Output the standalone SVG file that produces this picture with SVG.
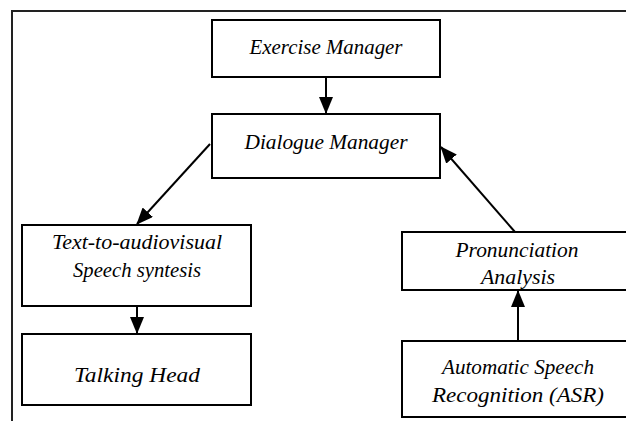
<svg xmlns="http://www.w3.org/2000/svg" width="626" height="421" viewBox="0 0 626 421">
<style>
.box{fill:#fff;stroke:#000;stroke-width:2}
.lbl{font-family:"Liberation Serif",serif;font-style:italic;font-size:20px;fill:#000;text-anchor:middle}
.edge{stroke:#000;stroke-width:2;fill:none;marker-end:url(#ah)}
.frame{stroke:#222;stroke-width:2;fill:none}
</style>
<defs>
<marker id="ah" markerWidth="17" markerHeight="14" refX="16" refY="7" orient="auto" markerUnits="userSpaceOnUse" viewBox="0 0 17 14">
<path d="M0,0 L17,7 L0,14 Z" fill="#000"/>
</marker>
</defs>
<path class="frame" d="M12,421 V11 H626"/>
<g id="exercise-manager">
<rect class="box" x="212" y="20" width="228" height="57"/>
<text class="lbl" x="326" y="54" textLength="153" lengthAdjust="spacingAndGlyphs">Exercise Manager</text>
</g>
<g id="dialogue-manager">
<rect class="box" x="212" y="114" width="228" height="64"/>
<text class="lbl" x="326" y="149" textLength="163" lengthAdjust="spacingAndGlyphs">Dialogue Manager</text>
</g>
<g id="tts">
<rect class="box" x="22" y="225" width="229" height="81"/>
<text class="lbl" x="137" y="249" textLength="170" lengthAdjust="spacingAndGlyphs">Text-to-audiovisual</text>
<text class="lbl" x="137" y="277" textLength="128" lengthAdjust="spacingAndGlyphs">Speech syntesis</text>
</g>
<g id="talking-head">
<rect class="box" x="22" y="334" width="229" height="71"/>
<text class="lbl" x="137" y="382" textLength="126" lengthAdjust="spacingAndGlyphs">Talking Head</text>
</g>
<g id="pronunciation">
<rect class="box" x="402" y="232" width="240" height="58"/>
<text class="lbl" x="517" y="257" textLength="123" lengthAdjust="spacingAndGlyphs">Pronunciation</text>
<text class="lbl" x="518" y="284" textLength="74" lengthAdjust="spacingAndGlyphs">Analysis</text>
</g>
<g id="asr">
<rect class="box" x="402" y="341" width="240" height="76"/>
<text class="lbl" x="518" y="374" textLength="152" lengthAdjust="spacingAndGlyphs">Automatic Speech</text>
<text class="lbl" x="518" y="402" textLength="172" lengthAdjust="spacingAndGlyphs">Recognition (ASR)</text>
</g>
<g id="connectors">
<line class="edge" x1="326" y1="77" x2="326" y2="113"/>
<line class="edge" x1="210" y1="144" x2="137" y2="224"/>
<line class="edge" x1="137" y1="306" x2="137" y2="333"/>
<line class="edge" x1="518" y1="341" x2="518" y2="291"/>
<line class="edge" x1="515" y1="232" x2="441" y2="147"/>
</g>
</svg>
